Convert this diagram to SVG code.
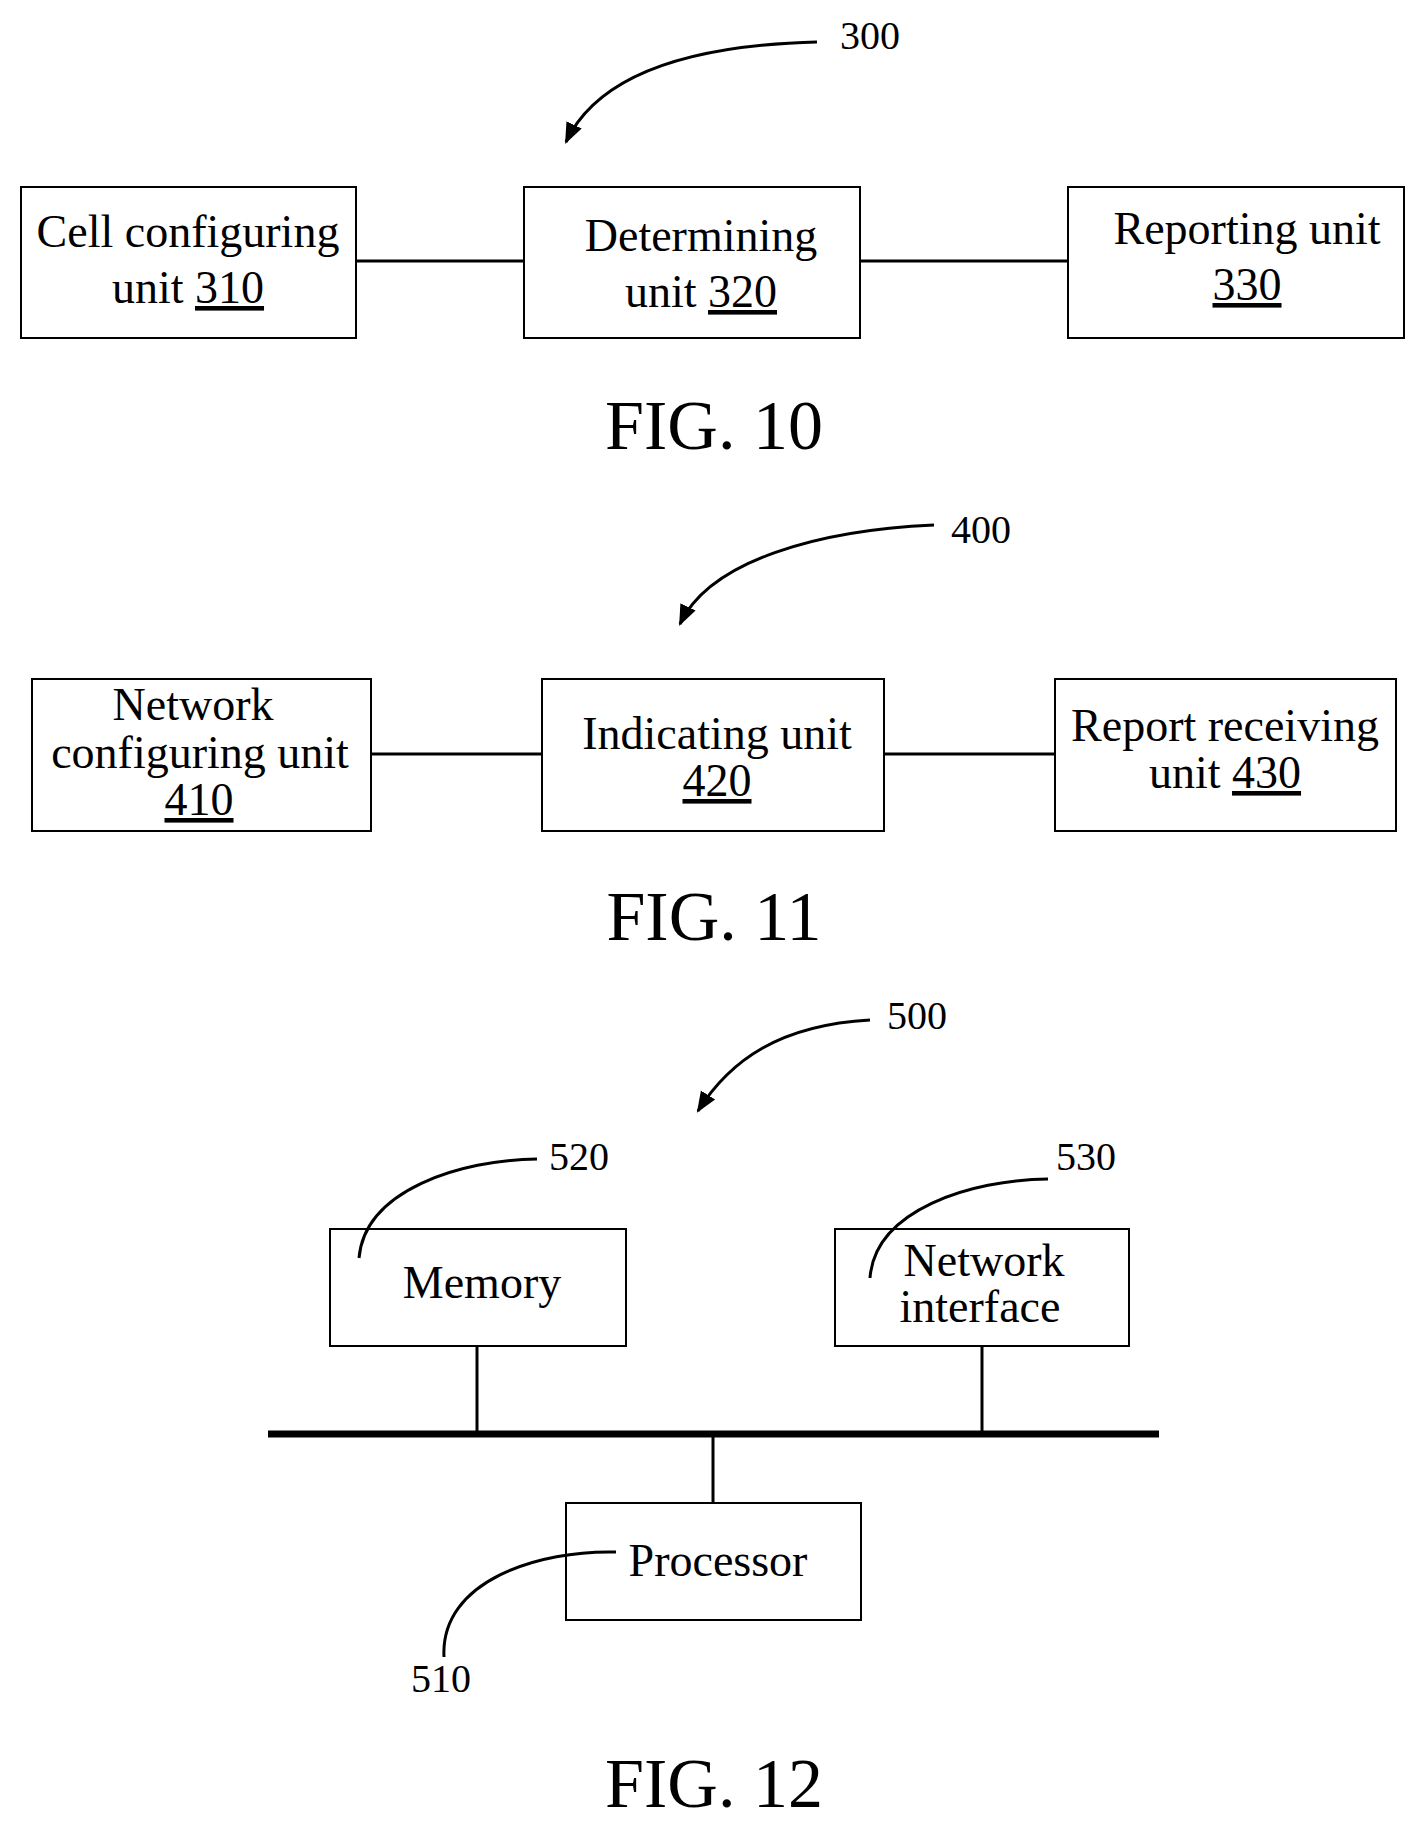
<svg xmlns="http://www.w3.org/2000/svg" width="1424" height="1829" viewBox="0 0 1424 1829">
<style>
text{font-family:"Liberation Serif","Times New Roman",serif;fill:#000}
.t{font-size:46px;text-anchor:middle}
.n{font-size:40px}
.fig{font-size:70px;text-anchor:middle}
.box{fill:#fff;stroke:#000;stroke-width:2}
.ln{stroke:#000;stroke-width:3;fill:none}
.cv{stroke:#000;stroke-width:3;fill:none}
.u{text-decoration:underline}
</style>
<defs>
<marker id="ah" viewBox="0 0 10 10" refX="9" refY="5" markerWidth="7" markerHeight="7" orient="auto" markerUnits="strokeWidth">
<path d="M0,1 L10,5 L0,9 Z" fill="#000"/>
</marker>
</defs>
<g id="label300"><text class="n" x="840" y="49">300</text></g>
<g id="n310"><rect class="box" x="21" y="187" width="335" height="151"/>
<text class="t" x="188" y="247">Cell configuring</text><text class="t" x="188" y="303">unit <tspan class="u">310</tspan></text></g>
<g id="n320"><rect class="box" x="524" y="187" width="336" height="151"/>
<text class="t" x="701" y="251">Determining</text><text class="t" x="701" y="307">unit <tspan class="u">320</tspan></text></g>
<g id="n330"><rect class="box" x="1068" y="187" width="336" height="151"/>
<text class="t" x="1247" y="244">Reporting unit</text><text class="t" x="1247" y="300"><tspan class="u">330</tspan></text></g>
<text class="fig" x="714" y="449">FIG. 10</text>
<g id="label400"><text class="n" x="951" y="543">400</text></g>
<g id="n410"><rect class="box" x="32" y="679" width="339" height="152"/>
<text class="t" x="193" y="720">Network</text><text class="t" x="200" y="768">configuring unit</text><text class="t" x="199" y="815"><tspan class="u">410</tspan></text></g>
<g id="n420"><rect class="box" x="542" y="679" width="342" height="152"/>
<text class="t" x="717" y="749">Indicating unit</text><text class="t" x="717" y="796"><tspan class="u">420</tspan></text></g>
<g id="n430"><rect class="box" x="1055" y="679" width="341" height="152"/>
<text class="t" x="1225" y="741">Report receiving</text><text class="t" x="1225" y="788">unit <tspan class="u">430</tspan></text></g>
<text class="fig" x="714" y="940">FIG. 11</text>
<g id="label500"><text class="n" x="887" y="1029">500</text></g>
<g id="n520"><rect class="box" x="330" y="1229" width="296" height="117"/>
<text class="t" x="482" y="1298">Memory</text></g>
<g id="n530"><rect class="box" x="835" y="1229" width="294" height="117"/>
<text class="t" x="984" y="1276">Network</text><text class="t" x="980" y="1322">interface</text></g>
<g id="n510"><rect class="box" x="566" y="1503" width="295" height="117"/>
<text class="t" x="718" y="1576">Processor</text></g>
<text class="n" x="549" y="1170">520</text>
<text class="n" x="1056" y="1170">530</text>
<text class="n" x="411" y="1692">510</text>
<text class="fig" x="714" y="1807">FIG. 12</text>
<g id="connectors">
<line class="ln" x1="356" y1="261" x2="524" y2="261"/>
<line class="ln" x1="860" y1="261" x2="1068" y2="261"/>
<line class="ln" x1="371" y1="754" x2="542" y2="754"/>
<line class="ln" x1="884" y1="754" x2="1055" y2="754"/>
<line stroke="#000" stroke-width="7" x1="268" y1="1434" x2="1159" y2="1434"/>
<line class="ln" x1="477" y1="1346" x2="477" y2="1434"/>
<line class="ln" x1="982" y1="1346" x2="982" y2="1434"/>
<line class="ln" x1="713" y1="1434" x2="713" y2="1503"/>
<path class="cv" d="M817,42 C700,45 600,70 566,142" marker-end="url(#ah)"/>
<path class="cv" d="M934,525 C820,530 710,560 680,624" marker-end="url(#ah)"/>
<path class="cv" d="M870,1020 C780,1025 730,1060 698,1111" marker-end="url(#ah)"/>
<path class="cv" d="M537,1159 C460,1160 365,1190 359,1258"/>
<path class="cv" d="M1048,1179 C970,1180 875,1210 870,1278"/>
<path class="cv" d="M616,1552 C540,1550 440,1580 444,1657"/>
</g>
</svg>
